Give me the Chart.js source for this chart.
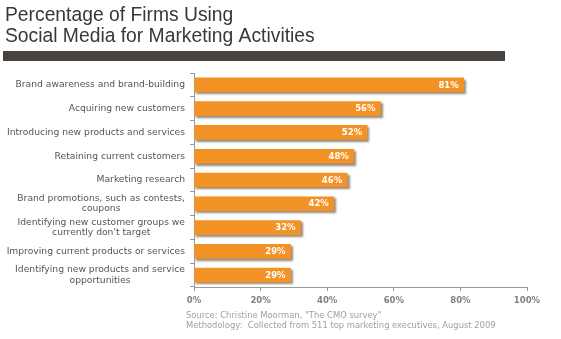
<!DOCTYPE html>
<html>
<head>
<meta charset="utf-8">
<script src="https://cdn.jsdelivr.net/npm/chart.js@4"></script>
<style>
  html, body { margin: 0; padding: 0; background: #fff; }
  #wrap { position: relative; width: 561px; height: 339px; }
</style>
</head>
<body>
<div id="wrap"><canvas id="firmsChart" width="561" height="339"></canvas></div>
<script>
var activities = [
    'Brand awareness and brand-building',
    'Acquiring new customers',
    'Introducing new products and services',
    'Retaining current customers',
    'Marketing research',
    ['Brand promotions, such as contests,', 'coupons'],
    ['Identifying new customer groups we', "currently don't target"],
    'Improving current products or services',
    ['Identifying new products and service', 'opportunities']
];
var percentFirms = [81, 56, 52, 48, 46, 42, 32, 29, 29];
var xTicks = [0, 20, 40, 60, 80, 100];

var titleLines = ['Percentage of Firms Using', 'Social Media for Marketing Activities'];
var sourceLines = [
    'Source: Christine Moorman, "The CMO survey"',
    'Methodology:  Collected from 511 top marketing executives, August 2009'
];

var orange = '#f39325';
var labelFont = '9.2px "DejaVu Sans", Verdana, sans-serif';

// header, dark rule and source notes
var decorations = {
    id: 'decorations',
    afterDraw: function(chart) {
        var c = chart.ctx;
        c.save();
        c.fillStyle = '#383838';
        c.font = '19.3px "Liberation Sans", Arial, sans-serif';
        c.textBaseline = 'alphabetic';
        c.textAlign = 'left';
        c.fillText(titleLines[0], 5, 21);
        c.fillText(titleLines[1], 5, 42);

        c.fillStyle = '#48433e';
        c.fillRect(3, 51, 502, 10);

        c.fillStyle = '#a0a0a0';
        c.font = '8.4px "DejaVu Sans", Verdana, sans-serif';
        c.fillText(sourceLines[0], 186, 318);
        c.fillText(sourceLines[1], 186, 328);
        c.restore();
    }
};

// category names: block right-aligned to the axis, wrapped lines centred in the block
var categoryLabels = {
    id: 'categoryLabels',
    afterDraw: function(chart) {
        var c = chart.ctx;
        var yScale = chart.scales.y;
        var right = yScale.right - 9;
        var lineH = 10.5;
        c.save();
        c.font = labelFont;
        c.fillStyle = '#555';
        c.textBaseline = 'middle';
        c.textAlign = 'center';
        activities.forEach(function(label, i) {
            var lines = Array.isArray(label) ? label : [label];
            var w = Math.max.apply(null, lines.map(function(s) { return c.measureText(s).width; }));
            var cx = right - w / 2;
            var y0 = yScale.getPixelForTick(i) - (lines.length - 1) * lineH / 2;
            lines.forEach(function(s, k) {
                c.fillText(s, cx, y0 + k * lineH);
            });
        });
        c.restore();
    }
};

// soft drop shadow under the bars
var barShadow = {
    id: 'barShadow',
    beforeDatasetsDraw: function(chart) {
        var c = chart.ctx;
        c.save();
        c.shadowColor = 'rgba(60, 40, 20, 0.55)';
        c.shadowOffsetX = 2;
        c.shadowOffsetY = 2;
        c.shadowBlur = 2;
    },
    afterDatasetsDraw: function(chart) {
        chart.ctx.restore();
    }
};

// value labels inside the bar ends
var valueLabels = {
    id: 'valueLabels',
    afterDatasetsDraw: function(chart) {
        var c = chart.ctx;
        var meta = chart.getDatasetMeta(0);
        c.save();
        c.fillStyle = '#fff';
        c.font = 'bold 8.5px "DejaVu Sans", Verdana, sans-serif';
        c.textAlign = 'right';
        c.textBaseline = 'middle';
        meta.data.forEach(function(bar, i) {
            c.fillText(percentFirms[i] + '%', bar.x - 5, bar.y + 0.5);
        });
        c.restore();
    }
};

var ctx = document.getElementById('firmsChart').getContext('2d');
var firmsChart = new Chart(ctx, {
    type: 'bar',
    data: {
        labels: activities,
        datasets: [{
            data: percentFirms,
            backgroundColor: orange,
            borderWidth: 0,
            barThickness: 14
        }]
    },
    options: {
        indexAxis: 'y',
        responsive: false,
        animation: false,
        layout: { padding: { top: 73, right: 34, left: 0, bottom: 0 } },
        plugins: {
            legend: { display: false },
            tooltip: { enabled: false }
        },
        scales: {
            x: {
                min: 0,
                max: 100,
                afterFit: function(scale) { scale.height = 52; },
                afterBuildTicks: function(scale) {
                    scale.ticks = xTicks.map(function(v) { return { value: v }; });
                },
                grid: {
                    drawOnChartArea: false,
                    drawTicks: true,
                    tickLength: 4,
                    color: '#999'
                },
                border: { color: '#999', width: 1 },
                ticks: {
                    color: '#808080',
                    padding: 5,
                    font: { family: '"DejaVu Sans", Verdana, sans-serif', size: 8.5, weight: 'bold' },
                    callback: function(v) { return v + '%'; }
                }
            },
            y: {
                afterFit: function(scale) { scale.width = 194; },
                grid: {
                    offset: true,
                    drawOnChartArea: false,
                    drawTicks: true,
                    tickLength: 4,
                    color: '#999'
                },
                border: { color: '#999', width: 1 },
                ticks: {
                    autoSkip: false,
                    display: false
                }
            }
        }
    },
    plugins: [barShadow, valueLabels, categoryLabels, decorations]
});
</script>
</body>
</html>
